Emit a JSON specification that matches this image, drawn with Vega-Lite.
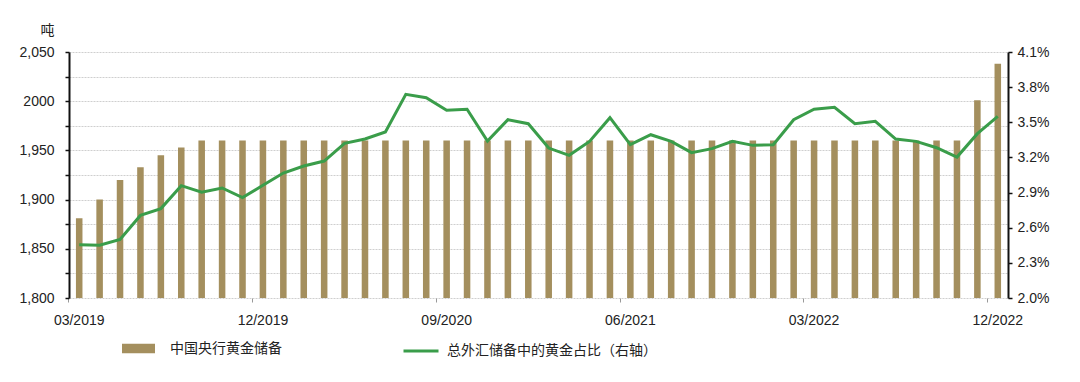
{
  "$schema": "https://vega.github.io/schema/vega-lite/v6.json",
  "autosize": "none",
  "width": 939,
  "height": 246,
  "padding": {"left": 69, "top": 52, "right": 72, "bottom": 84},
  "background": "white",
  "config": {
    "font": "Liberation Sans, Noto Sans CJK SC",
    "view": {"stroke": null},
    "axis": {"labelFontSize": 14, "labelColor": "#222", "titleColor": "#222", "labelFont": "Liberation Sans, Noto Sans CJK SC"},
    "legend": {"labelFontSize": 14, "labelColor": "#222", "labelFont": "Noto Sans CJK SC", "padding": 0, "labelLimit": 400}
  },
  "data": {"values": [
    {"m": "03/2019", "gold": 1881, "pct": 2.455},
    {"m": "04/2019", "gold": 1900, "pct": 2.45},
    {"m": "05/2019", "gold": 1920, "pct": 2.5},
    {"m": "06/2019", "gold": 1933, "pct": 2.705},
    {"m": "07/2019", "gold": 1945, "pct": 2.763},
    {"m": "08/2019", "gold": 1953, "pct": 2.959},
    {"m": "09/2019", "gold": 1960, "pct": 2.904},
    {"m": "10/2019", "gold": 1960, "pct": 2.939},
    {"m": "11/2019", "gold": 1960, "pct": 2.857},
    {"m": "12/2019", "gold": 1960, "pct": 2.962},
    {"m": "01/2020", "gold": 1960, "pct": 3.067},
    {"m": "02/2020", "gold": 1960, "pct": 3.127},
    {"m": "03/2020", "gold": 1960, "pct": 3.169},
    {"m": "04/2020", "gold": 1960, "pct": 3.32},
    {"m": "05/2020", "gold": 1960, "pct": 3.357},
    {"m": "06/2020", "gold": 1960, "pct": 3.417},
    {"m": "07/2020", "gold": 1960, "pct": 3.739},
    {"m": "08/2020", "gold": 1960, "pct": 3.71},
    {"m": "09/2020", "gold": 1960, "pct": 3.602},
    {"m": "10/2020", "gold": 1960, "pct": 3.611},
    {"m": "11/2020", "gold": 1960, "pct": 3.34},
    {"m": "12/2020", "gold": 1960, "pct": 3.522},
    {"m": "01/2021", "gold": 1960, "pct": 3.488},
    {"m": "02/2021", "gold": 1960, "pct": 3.28},
    {"m": "03/2021", "gold": 1960, "pct": 3.218},
    {"m": "04/2021", "gold": 1960, "pct": 3.337},
    {"m": "05/2021", "gold": 1960, "pct": 3.539},
    {"m": "06/2021", "gold": 1960, "pct": 3.309},
    {"m": "07/2021", "gold": 1960, "pct": 3.394},
    {"m": "08/2021", "gold": 1960, "pct": 3.337},
    {"m": "09/2021", "gold": 1960, "pct": 3.241},
    {"m": "10/2021", "gold": 1960, "pct": 3.275},
    {"m": "11/2021", "gold": 1960, "pct": 3.337},
    {"m": "12/2021", "gold": 1960, "pct": 3.303},
    {"m": "01/2022", "gold": 1960, "pct": 3.309},
    {"m": "02/2022", "gold": 1960, "pct": 3.522},
    {"m": "03/2022", "gold": 1960, "pct": 3.611},
    {"m": "04/2022", "gold": 1960, "pct": 3.628},
    {"m": "05/2022", "gold": 1960, "pct": 3.488},
    {"m": "06/2022", "gold": 1960, "pct": 3.508},
    {"m": "07/2022", "gold": 1960, "pct": 3.357},
    {"m": "08/2022", "gold": 1960, "pct": 3.337},
    {"m": "09/2022", "gold": 1960, "pct": 3.283},
    {"m": "10/2022", "gold": 1960, "pct": 3.203},
    {"m": "11/2022", "gold": 2001, "pct": 3.403},
    {"m": "12/2022", "gold": 2038, "pct": 3.551}
  ]},
  "encoding": {
    "x": {
      "field": "m", "type": "ordinal", "sort": null,
      "scale": {"paddingInner": 0, "paddingOuter": 0},
      "axis": {
        "title": null,
        "bandPosition": 0,
        "labelAngle": 0,
        "labelDx": 10,
        "labelPadding": 11,
        "labelOverlap": false,
        "labelBound": false,
        "labelFlush": false,
        "labelExpr": "(datum.value == '03/2019' || datum.value == '12/2019' || datum.value == '09/2020' || datum.value == '06/2021' || datum.value == '03/2022' || datum.value == '12/2022') ? datum.value : ''",
        "tickSize": 4,
        "tickColor": {"condition": {"test": "datum.value == '03/2019' || datum.value == '12/2019' || datum.value == '09/2020' || datum.value == '06/2021' || datum.value == '03/2022' || datum.value == '12/2022'", "value": "#999"}, "value": "rgba(0,0,0,0)"},
        "domain": false,
        "grid": false
      }
    }
  },
  "layer": [
    {
      "mark": {"type": "bar", "width": {"band": 0.32}, "clip": true},
      "encoding": {
        "y": {
          "field": "gold", "type": "quantitative",
          "scale": {"domain": [1800, 2050], "zero": false, "nice": false},
          "axis": {
            "title": "吨",
            "titleAngle": 0,
            "titleAlign": "center",
            "titleBaseline": "alphabetic",
            "titleX": -22,
            "titleY": -18,
            "titleFontSize": 14,
            "titleFontWeight": "normal",
            "titleFont": "Noto Sans CJK SC",
            "values": [1800, 1825, 1850, 1875, 1900, 1925, 1950, 1975, 2000, 2025, 2050],
            "labelExpr": "datum.value % 50 == 0 ? (datum.value == 2000 ? '2000' : format(datum.value, ',')) : ''",
            "tickSize": 4,
            "tickColor": "#111",
            "tickWidth": 1.5,
            "labelPadding": 11,
            "domainColor": "#111",
            "domainWidth": 2,
            "grid": true,
            "gridColor": "#cfcfcf",
            "gridWidth": 1,
            "gridDash": [2, 1]
          }
        },
        "fill": {
          "datum": "中国央行黄金储备",
          "scale": {"range": ["#a48f5e"]},
          "legend": {
            "title": null,
            "orient": "none",
            "legendX": 53,
            "legendY": 280,
            "symbolType": "M-1,-0.29H1V0.29H-1Z",
            "symbolSize": 1089,
            "symbolStrokeWidth": 0,
            "labelOffset": 15
          }
        }
      }
    },
    {
      "mark": {"type": "line", "strokeWidth": 3},
      "encoding": {
        "y": {
          "field": "pct", "type": "quantitative",
          "scale": {"domain": [2.0, 4.1], "zero": false, "nice": false},
          "axis": {
            "orient": "right",
            "title": null,
            "values": [2.0, 2.3, 2.6, 2.9, 3.2, 3.5, 3.8, 4.1],
            "labelExpr": "format(datum.value, '.1f') + '%'",
            "tickSize": 4,
            "tickColor": "#111",
            "tickWidth": 1.5,
            "labelPadding": 5,
            "domainColor": "#111",
            "domainWidth": 2,
            "grid": false
          }
        },
        "stroke": {
          "datum": "总外汇储备中的黄金占比（右轴）",
          "scale": {"range": ["#3a9d4a"]},
          "legend": {
            "title": null,
            "orient": "none",
            "legendX": 333,
            "legendY": 280,
            "symbolType": "stroke",
            "symbolSize": 1225,
            "symbolStrokeWidth": 3,
            "labelOffset": 7
          }
        }
      }
    }
  ],
  "resolve": {"scale": {"y": "independent"}, "axis": {"y": "independent"}}
}
